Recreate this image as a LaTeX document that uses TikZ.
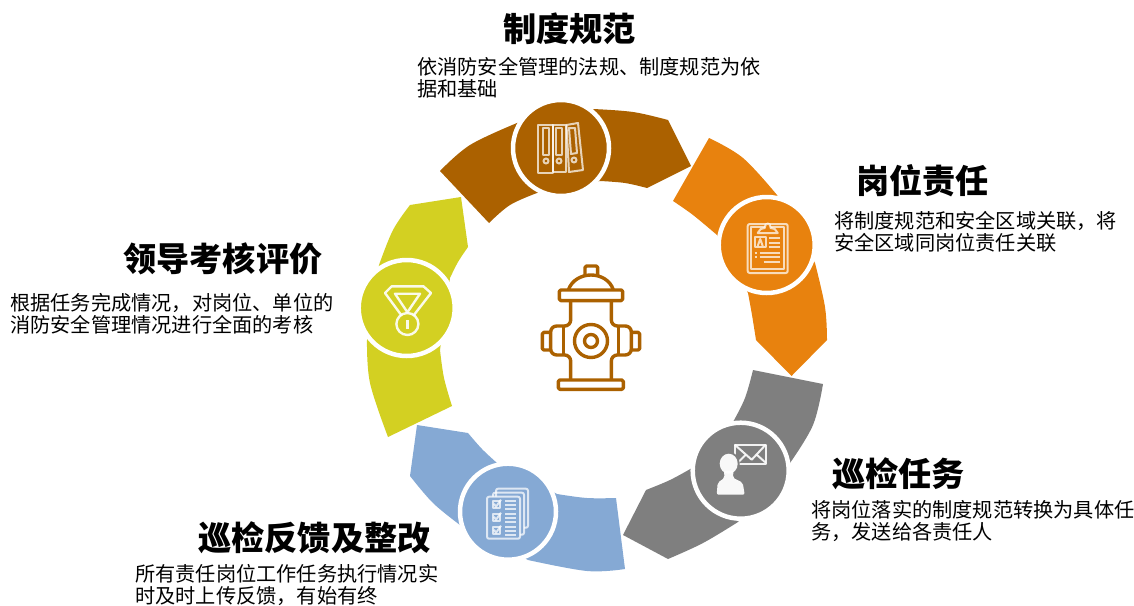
\documentclass[tikz,border=0pt]{standalone}
\usepackage{fontspec}
\setmainfont{Noto Sans CJK SC}
\definecolor{cbrown}{HTML}{AB6100}
\definecolor{corange}{HTML}{E8820E}
\definecolor{cgray}{HTML}{7F7F7F}
\definecolor{cblue}{HTML}{85A9D4}
\definecolor{cyellow}{HTML}{D3D022}
\tikzset{
 arcp/.style={smooth,tension=0.6},
 badge/.style={circle,draw=white,line width=4.5pt,minimum size=96pt,inner sep=0pt,fill=#1},
 headtext/.style={inner sep=0pt,anchor=west,font=\fontsize{33.2}{36}\selectfont\bfseries,text=black},
 bodytext/.style={inner sep=0pt,anchor=north west,align=left,font=\fontsize{20.2}{22}\selectfont,text=black},
 iconline/.style={draw=white,draw opacity=0.72,line width=2pt,line join=round},
 iconsolid/.style={fill=white,fill opacity=0.95},
 hyd/.style={draw=cbrown,line width=3.4pt,line join=round}
}
\begin{document}
\begin{tikzpicture}[x=1pt,y=-1pt]
\useasboundingbox (0,0) rectangle (1134,605);
% ring segments
\fill[cbrown] plot[arcp] coordinates {(440,171) (470,145) (517,123)} -- plot[arcp] coordinates {(593,109) (633,112) (668,120)} -- (691,166) -- plot[arcp] coordinates {(647,188) (625,183) (600,181)} -- plot[arcp] coordinates {(537,193) (510,205) (489,223)} -- cycle;
\fill[corange] plot[arcp] coordinates {(709,138) (743,158) (777,195)} -- plot[arcp] coordinates {(815,263) (825,307) (827,340)} -- (791.5,376) -- plot[arcp] coordinates {(756,340) (752,315) (748,293)} -- plot[arcp] coordinates {(717,235) (693,215) (673,201)} -- cycle;
\fill[cgray] plot[arcp] coordinates {(823,384) (813,425) (790,463)} -- plot[arcp] coordinates {(738,522) (703,543) (668,559)} -- (623,535) -- plot[arcp] coordinates {(646,490) (670,480) (692,468)} -- plot[arcp] coordinates {(733,422) (745,398) (753,370)} -- cycle;
\fill[cblue] plot[arcp] coordinates {(625,569) (587,571) (528,560)} -- plot[arcp] coordinates {(460,525) (433,503) (410,476)} -- (417,425) -- plot[arcp] coordinates {(468,433) (482,449) (497,463)} -- plot[arcp] coordinates {(557,494) (587,498) (616,498)} -- cycle;
\fill[cyellow] plot[arcp] coordinates {(410,205) (393,230) (379,265)} -- plot[arcp] coordinates {(367,340) (370,383) (388,437)} -- plot[arcp] coordinates {(452,406) (444,378) (440,350)} -- plot[arcp] coordinates {(450,278) (458,262) (468,247)} -- (461,197) -- cycle;
% badges
\node[badge=cbrown] (b1) at (561,148) {};
\node[badge=corange] (b2) at (766.7,245) {};
\node[badge=cgray] (b3) at (740.7,470.7) {};
\node[badge=cblue] (b4) at (508,511.7) {};
\node[badge=cyellow] (b5) at (406.7,308) {};
% binders
\begin{scope}[shift={(b1.center)},iconline]
\draw (-23,-23) rectangle (-8,25);
\draw (-8,-23) rectangle (5,24);
\draw (5.5,-23) -- (17,-25) -- (22,22) -- (8,24) -- cycle;
\draw (-18,-20) rectangle (-12,7);
\draw (-5,-20) rectangle (1,7);
\draw (8,-20) -- (14,-20) -- (16,5) -- (10,6) -- cycle;
\draw (-15,13) circle[radius=2.5pt];
\draw (-2,13) circle[radius=2.5pt];
\draw (13,12) circle[radius=2.5pt];
\end{scope}
% clipboard
\begin{scope}[shift={(b2.center)},iconline]
\draw[rounded corners=2pt] (-19,-21) rectangle (21,28);
\draw (-16,-18) rectangle (17,24);
\draw[fill=corange] (-9,-12) -- (-6,-16) -- (-2,-17) .. controls (-2,-23) and (4,-23) .. (4,-17) -- (8,-16) -- (11,-12) -- cycle;
\draw (-12,-8) rectangle (-1,2);
\draw (-9,1) -- (-6.5,-6) -- (-4,1);
\foreach \yy in {-7,-2.3,1.7}{\draw (2,\yy) -- (13,\yy);}
\foreach \yy in {7.7,12}{\draw (-7,\yy) -- (13,\yy); \draw (-12,\yy) -- (-9.5,\yy);}
\draw (-3,16.7) -- (13,16.7);
\end{scope}
% envelope and person
\begin{scope}[shift={(b3.center)}]
\draw[iconline,draw opacity=0.9] (-6,-26) rectangle (25,-7);
\draw[iconline,draw opacity=0.9] (-6,-26) -- (11,-11) -- (25,-26);
\draw[iconline,draw opacity=0.9] (-3,-8) -- (5,-16);
\draw[iconline,draw opacity=0.9] (25,-8) -- (16,-16);
\fill[cgray] (-12,-7) ellipse[x radius=11pt,y radius=12pt];
\fill[iconsolid] (-12,-7) ellipse[x radius=9pt,y radius=10pt];
\fill[iconsolid,rounded corners=2pt] (-24,24) -- (-23,12) -- (-16,7) -- (-17,0) -- (-7,0) -- (-8,7) -- (2,12) -- (4,24) -- cycle;
\end{scope}
% checklist
\begin{scope}[shift={(b4.center)},iconline]
\draw[rounded corners=2pt] (-15,-15) -- (-15,-19) -- (16,-19) -- (16,23) -- (12,23);
\draw[rounded corners=2pt] (-12,-15) -- (-12,-23) -- (20,-23) -- (20,16) -- (16,16);
\draw[rounded corners=2pt] (-21,-15) rectangle (12,27);
\foreach \yy in {-11,2,15}{
 \draw (-15,\yy) rectangle ++(7,7);
 \draw (-14,\yy+3) -- (-12,\yy+6) -- (-7,\yy-1);
 \foreach \dd in {0,4,8}{\draw (-3,\yy+\dd) -- (8,\yy+\dd);}
}
\end{scope}
% medal
\begin{scope}[shift={(b5.center)},draw=white,line width=2.4pt,draw opacity=0.9,line join=round]
\draw (-5,7.7) -- (-21.7,-15) -- (-15,-21.7) -- (16.7,-21.7) -- (24.3,-15) -- (6.7,7.7);
\draw (-11.7,-14.3) -- (13.3,-14.3) -- (0.7,4.3) -- cycle;
\draw (0.7,16) circle[radius=11pt];
\draw (0.7,12) -- (0.7,21);
\end{scope}
% hydrant
\begin{scope}[shift={(530,255)},x=0.3333pt,y=-0.3333pt]
\draw[hyd,rounded corners=1.5pt] (165,60) -- (165,33) -- (203,33) -- (203,60);
\draw[hyd] (115,105) .. controls (125,75) and (155,60) .. (183,60) .. controls (211,60) and (241,75) .. (250,105);
\draw[hyd,rounded corners=1.5pt] (88,105) rectangle (278,137);
\draw[hyd,rounded corners=6pt] (122,137) -- (122,213) -- (62,213) -- (62,300) -- (122,300) -- (122,375);
\draw[hyd,rounded corners=6pt] (244,137) -- (244,213) -- (304,213) -- (304,300) -- (244,300) -- (244,375);
\draw[hyd] (100,215) -- (100,298);
\draw[hyd] (266,215) -- (266,298);
\draw[hyd,rounded corners=1.5pt] (62,232) -- (37,232) -- (37,285) -- (62,285);
\draw[hyd,rounded corners=1.5pt] (304,232) -- (329,232) -- (329,285) -- (304,285);
\draw[hyd] (183,258) circle[radius=16.5pt];
\draw[hyd] (183,258) circle[radius=6.5pt];
\draw[hyd,rounded corners=1.5pt] (85,375) rectangle (280,403);
\end{scope}
% texts
\node[headtext] (t1) at (503,29) {制度规范};
\node[bodytext] (d1) at (417,57) {依消防安全管理的法规、制度规范为依\\据和基础};
\node[headtext] (t2) at (856,181) {岗位责任};
\node[bodytext] (d2) at (834,211) {将制度规范和安全区域关联，将\\安全区域同岗位责任关联};
\node[headtext] (t3) at (832,474) {巡检任务};
\node[bodytext] (d3) at (811,500) {将岗位落实的制度规范转换为具体任\\务，发送给各责任人};
\node[headtext] (t4) at (198,538) {巡检反馈及整改};
\node[bodytext] (d4) at (135,564) {所有责任岗位工作任务执行情况实\\时及时上传反馈，有始有终};
\node[headtext] (t5) at (123,259) {领导考核评价};
\node[bodytext] (d5) at (10,293) {根据任务完成情况，对岗位、单位的\\消防安全管理情况进行全面的考核};
\end{tikzpicture}
\end{document}
